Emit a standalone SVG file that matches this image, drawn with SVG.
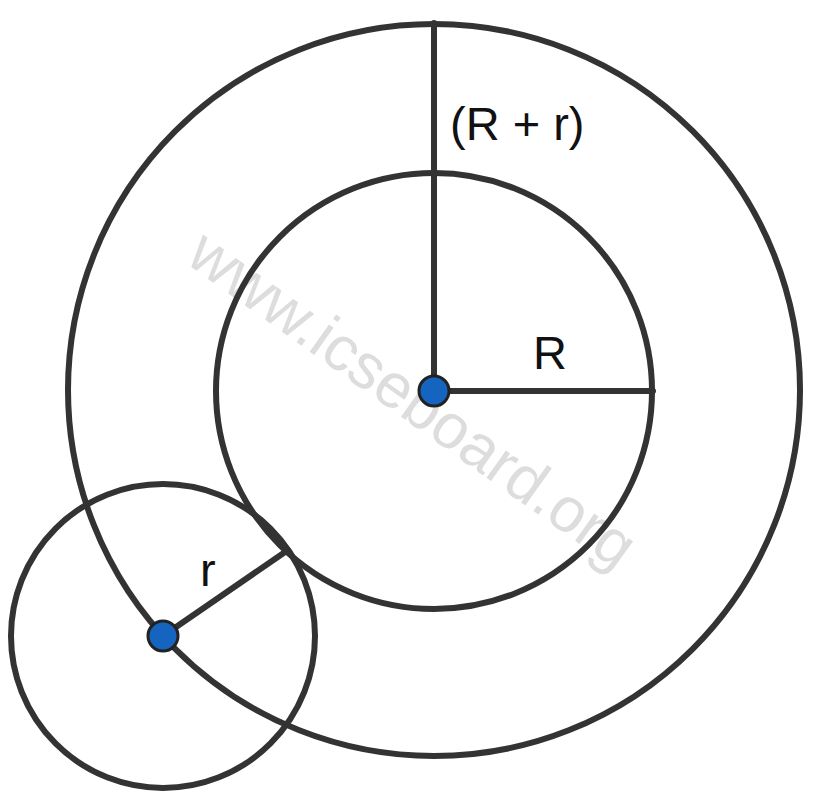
<svg xmlns="http://www.w3.org/2000/svg" width="825" height="800" viewBox="0 0 825 800">
<style>
.c{fill:none;stroke:#333;stroke-width:6}
.l{stroke:#333;stroke-width:6;stroke-linecap:round}
.d{fill:#1565C0;stroke:#222;stroke-width:3}
.t{font-family:"Liberation Sans",Arial,sans-serif;font-size:47px;fill:#111}
</style>
<rect width="825" height="800" fill="#fff"/>
<text x="412" y="420" text-anchor="middle" transform="rotate(35.5 412 400)" style="font-family:'Liberation Sans',Arial,sans-serif;font-size:63px;fill:#ddd">www.icseboard.org</text>
<g id="outer"><circle class="c" cx="434" cy="390" r="366"/></g>
<g id="inner"><circle class="c" cx="434" cy="391" r="218"/></g>
<g id="small"><circle class="c" cx="163" cy="636" r="152"/></g>
<g id="connectors">
<line class="l" x1="434" y1="23" x2="434" y2="391"/>
<line class="l" x1="434" y1="391" x2="653" y2="391"/>
<line class="l" x1="163" y1="636" x2="288" y2="550"/>
</g>
<g id="centerDot"><circle class="d" cx="434" cy="391" r="15"/></g>
<g id="smallDot"><circle class="d" cx="163" cy="636" r="15"/></g>
<g id="labels">
<text class="t" x="450" y="140">(R + r)</text>
<text class="t" x="533" y="369">R</text>
<text class="t" x="200" y="586">r</text>
</g>
</svg>
